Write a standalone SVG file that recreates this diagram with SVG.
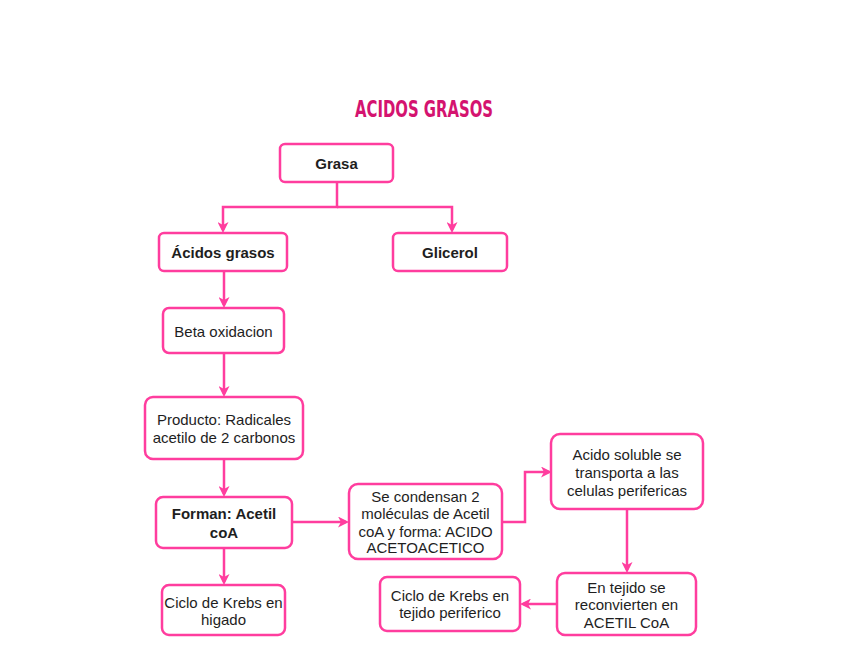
<svg xmlns="http://www.w3.org/2000/svg" width="848" height="655" viewBox="0 0 848 655">
<style>
.box{fill:#fff;stroke:#ff3d9e;stroke-width:2.5}
.t{font-family:"Liberation Sans",Arial,sans-serif;font-size:15px;fill:#1e1e1e;text-anchor:middle}
.b{font-weight:bold}
.c{fill:none;stroke:#ff3d9e;stroke-width:2.5}
</style>
<defs>
<marker id="ah" markerWidth="11" markerHeight="11" refX="8" refY="5.5" orient="auto" markerUnits="userSpaceOnUse">
<path d="M0,0 L11,5.5 L0,11 L3,5.5 Z" fill="#ff3d9e"/>
</marker>
</defs>
<rect width="848" height="655" fill="#fff"/>
<text x="424" y="117" font-family="'DejaVu Sans Condensed','DejaVu Sans',sans-serif" font-size="23" font-weight="bold" fill="#d4136f" text-anchor="middle" textLength="138" lengthAdjust="spacingAndGlyphs">ACIDOS GRASOS</text>
<g id="connectors">
<path class="c" d="M337,182 V207 H223 V230" marker-end="url(#ah)"/>
<path class="c" d="M337,207 H452 V230" marker-end="url(#ah)"/>
<path class="c" d="M224,271 V305" marker-end="url(#ah)"/>
<path class="c" d="M224,353 V394" marker-end="url(#ah)"/>
<path class="c" d="M224,459 V494" marker-end="url(#ah)"/>
<path class="c" d="M224,548 V582" marker-end="url(#ah)"/>
<path class="c" d="M292,522 H346" marker-end="url(#ah)"/>
<path class="c" d="M502,522 H525 V472 H549" marker-end="url(#ah)"/>
<path class="c" d="M627,509 V570" marker-end="url(#ah)"/>
<path class="c" d="M557,604 H523" marker-end="url(#ah)"/>
</g>
<g id="grasa"><rect class="box" x="280" y="144" width="113" height="38" rx="5"/><text class="t b" x="336.5" y="169" font-size="16">Grasa</text></g>
<g id="acidos"><rect class="box" x="159" y="233" width="128" height="38" rx="5"/><text class="t b" x="223" y="258">Ácidos grasos</text></g>
<g id="glicerol"><rect class="box" x="393" y="233" width="114" height="38" rx="5"/><text class="t b" x="450" y="258" font-size="16">Glicerol</text></g>
<g id="beta"><rect class="box" x="163" y="308" width="121" height="45" rx="6"/><text class="t" x="223.5" y="337">Beta oxidacion</text></g>
<g id="producto"><rect class="box" x="145" y="397" width="158" height="62" rx="8"/><text class="t" x="224" y="425">Producto: Radicales</text><text class="t" x="224" y="443">acetilo de 2 carbonos</text></g>
<g id="forman"><rect class="box" x="156" y="497" width="136" height="51" rx="7"/><text class="t b" x="224" y="519">Forman: Acetil</text><text class="t b" x="224" y="538">coA</text></g>
<g id="krebs1"><rect class="box" x="162" y="585" width="123" height="50" rx="7"/><text class="t" x="223.5" y="608">Ciclo de Krebs en</text><text class="t" x="223.5" y="625">higado</text></g>
<g id="condensan"><rect class="box" x="349" y="484" width="153" height="75" rx="9"/><text class="t" x="425.5" y="502">Se condensan 2</text><text class="t" x="425.5" y="519">moléculas de Acetil</text><text class="t" x="425.5" y="537">coA y forma: ACIDO</text><text class="t" x="425.5" y="553">ACETOACETICO</text></g>
<g id="soluble"><rect class="box" x="551" y="434" width="152" height="75" rx="9"/><text class="t" x="627" y="460">Acido soluble se</text><text class="t" x="627" y="478">transporta a las</text><text class="t" x="627" y="496">celulas perifericas</text></g>
<g id="tejido"><rect class="box" x="557" y="573" width="139" height="62" rx="8"/><text class="t" x="626.5" y="593">En tejido se</text><text class="t" x="626.5" y="610">reconvierten en</text><text class="t" x="626.5" y="628">ACETIL CoA</text></g>
<g id="krebs2"><rect class="box" x="380" y="577" width="140" height="54" rx="7"/><text class="t" x="450" y="601">Ciclo de Krebs en</text><text class="t" x="450" y="618">tejido periferico</text></g>
</svg>
